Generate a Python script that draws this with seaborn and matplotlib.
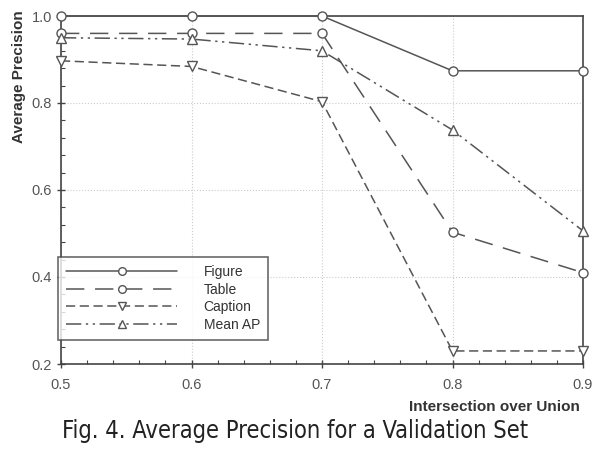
import pandas as pd
import seaborn as sns
import matplotlib.pyplot as plt
from matplotlib.ticker import MultipleLocator

# values
iou = [0.5, 0.6, 0.7, 0.8, 0.9]
figure_ap = [1.0, 1.0, 1.0, 0.874, 0.874]
table_ap = [0.96, 0.96, 0.96, 0.503, 0.41]
caption_ap = [0.897, 0.884, 0.803, 0.23, 0.23]
mean_ap = [0.95, 0.947, 0.92, 0.738, 0.506]
series_names = ['Figure', 'Table', 'Caption', 'Mean AP']

sns.set_style('white')
plt.rcParams['font.family'] = ['Liberation Sans', 'DejaVu Sans']

fig = plt.figure(figsize=(6.08, 4.59), dpi=100)
ax = fig.add_axes([61 / 608, 1 - 364 / 459, 522 / 608, 348 / 459])

line_col = '#555555'
styles = {
    'Figure': dict(marker='o', ls='-'),
    'Table': dict(marker='o', ls=(0, (12, 7))),
    'Caption': dict(marker='v', ls=(0, (6, 3))),
    'Mean AP': dict(marker='^', ls=(0, (10, 3, 1.5, 3, 1.5, 3))),
}
values = [figure_ap, table_ap, caption_ap, mean_ap]

for name, vals in zip(series_names, values):
    df = pd.DataFrame({'iou': iou, 'ap': vals})
    st = styles[name]
    sns.lineplot(data=df, x='iou', y='ap', ax=ax, color=line_col,
                 marker=st['marker'], linestyle=st['ls'], lw=1.1,
                 markersize=6.5, mfc='white', mec=line_col, mew=1.0,
                 label=name, clip_on=False, zorder=3)

ax.set_xlim(0.5, 0.9)
ax.set_ylim(0.2, 1.0)
ax.xaxis.set_major_locator(MultipleLocator(0.1))
ax.xaxis.set_minor_locator(MultipleLocator(0.02))
ax.yaxis.set_major_locator(MultipleLocator(0.2))
ax.yaxis.set_minor_locator(MultipleLocator(0.04))
ax.grid(True, which='major', color='#cccccc', ls=':', lw=0.8)
ax.tick_params(which='major', direction='inout', length=6, width=1,
               color='#444444', labelsize=10.5, labelcolor='#555555',
               bottom=True, left=True)
ax.tick_params(axis='x', which='major', pad=7)
ax.tick_params(which='minor', direction='in', length=3, width=0.8,
               color='#444444', bottom=True, left=True)
for sp in ax.spines.values():
    sp.set_color('#444444')
    sp.set_linewidth(1.2)

ax.set_xlabel('')
ax.set_ylabel('Average Precision', fontsize=11, fontweight='bold', color='#333333')
ax.yaxis.set_label_coords(-0.068, 0.825)
fig.text(580 / 608, 1 - 407 / 459, 'Intersection over Union', ha='right', va='center',
         fontsize=11, fontweight='bold', color='#333333')

leg = ax.legend(loc='lower left', bbox_to_anchor=(-0.006, 0.069), handlelength=8,
                handletextpad=1.9, fontsize=10, frameon=True, fancybox=False,
                borderpad=0.6, labelspacing=0.25, borderaxespad=0, markerscale=0.85)
leg.get_frame().set_edgecolor('#444444')
leg.get_frame().set_linewidth(1.2)
for t in leg.get_texts():
    t.set_color('#333333')

fig.text(0.485, 1 - 431 / 459, 'Fig. 4. Average Precision for a Validation Set',
         ha='center', va='center', fontsize=17, fontstretch='condensed',
         family=['DejaVu Sans'], color='#222222')

fig.savefig('out.png', dpi=100)
